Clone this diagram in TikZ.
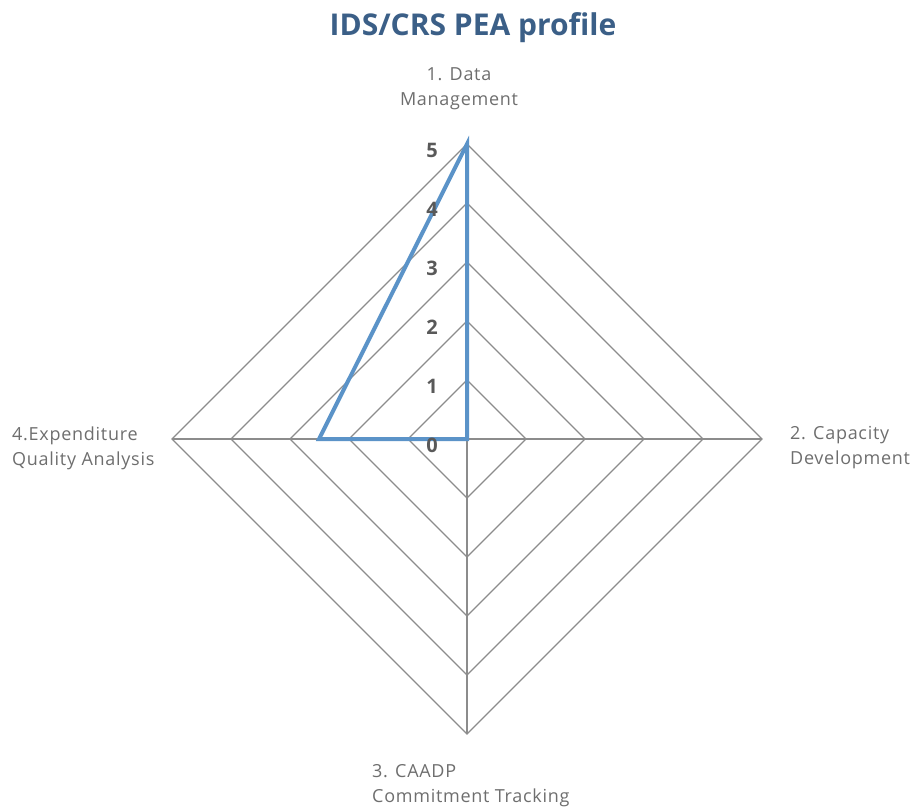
\documentclass[tikz,border=0pt]{standalone}
\usepackage{fontspec}
\usetikzlibrary{calc}
\setmainfont{Open Sans}
\definecolor{titleblue}{HTML}{3B5F87}
\definecolor{serieblue}{HTML}{5B93C8}
\definecolor{gridgray}{HTML}{8C8C8C}
\definecolor{labgray}{HTML}{6E6E6E}
\definecolor{tickgray}{HTML}{595959}
\begin{document}
\begin{tikzpicture}[x=1pt,y=-1pt,
  gridline/.style={draw=gridgray,line width=1.1pt},
  serie/.style={draw=serieblue,line width=4pt,line join=miter},
  axlabel/.style={text=labgray,font=\fontsize{18}{25}\selectfont\addfontfeature{LetterSpace=4},inner sep=0pt},
  ticklab/.style={text=tickgray,font=\fontsize{20}{22}\selectfont\bfseries,inner sep=0pt}]
\useasboundingbox (0,0) rectangle (910,809);
\coordinate (c) at (467,439);
\foreach \r in {1,...,5}{
  \draw[gridline] ($(c)+(0,-59*\r)$) -- ($(c)+(59*\r,0)$) -- ($(c)+(0,59*\r)$) -- ($(c)+(-59*\r,0)$) -- cycle;
}
\coordinate (top) at (467,144);
\coordinate (right) at (762,439);
\coordinate (bottom) at (467,734);
\coordinate (left) at (172,439);
\draw[gridline] (c) -- (top);
\draw[gridline] (c) -- (right);
\draw[gridline] (c) -- (bottom);
\draw[gridline] (c) -- (left);
\coordinate (v1) at (467,144);
\coordinate (v4) at (319,439);
\draw[serie] (v1) -- (c) -- (v4) -- cycle;
\foreach \r in {0,...,5}{
  \node[ticklab] (t\r) at (432,{445-59*\r}) {\r};
}
\node[font=\fontsize{30}{34}\selectfont\bfseries,text=titleblue] (title) at (473,28) {IDS/CRS PEA profile};
\node[axlabel,align=center] (l1) at (459,89) {1. Data\\Management};
\node[axlabel,align=left,anchor=west] (l2) at (790,448) {2. Capacity\\Development};
\node[axlabel,align=left,anchor=west] (l4) at (12,448) {4.Expenditure\\Quality Analysis};
\node[axlabel,align=left,anchor=west] (l3) at (372,786) {3. CAADP\\Commitment Tracking};
\end{tikzpicture}
\end{document}
